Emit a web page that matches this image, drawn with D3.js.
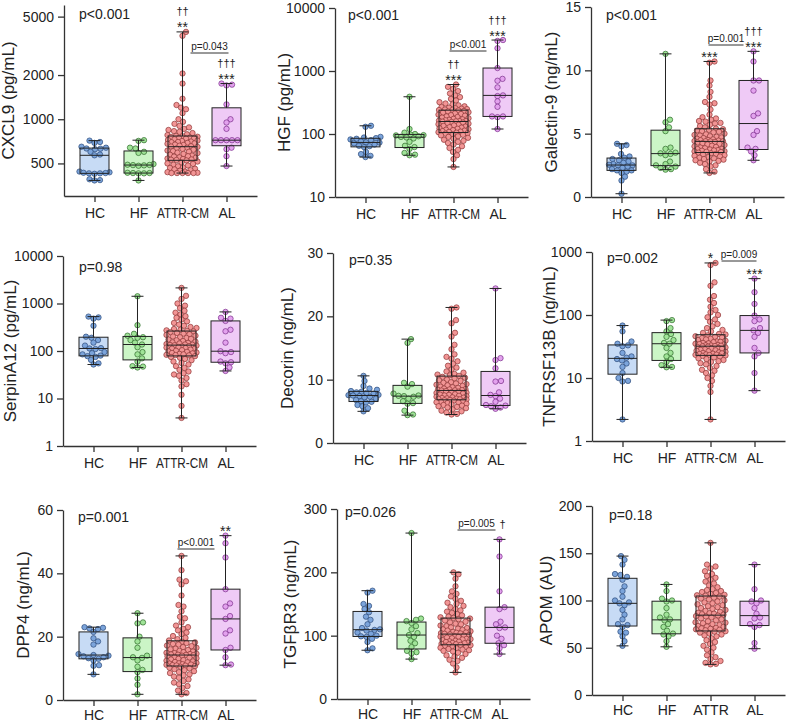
<!DOCTYPE html>
<html>
<head>
<meta charset="utf-8">
<script src="https://cdn.jsdelivr.net/npm/d3@7"></script>
<style>
  body { margin: 0; background: #fff; }
  svg { font-family: "Liberation Sans", Arial, sans-serif; }
</style>
</head>
<body>
<div id="plot"></div>
<script>
// group names on the x axis
var groups = ["HC", "HF", "ATTR-CM", "AL"];
var groupsShort = ["HC", "HF", "ATTR", "AL"];

// y axis titles and overall p values
var labels = ["CXCL9 (pg/mL)", "HGF (pg/mL)", "Galectin-9 (ng/mL)",
              "SerpinA12 (pg/mL)", "Decorin (ng/mL)", "TNFRSF13B (ng/mL)",
              "DPP4 (ng/mL)", "TGFβR3 (ng/mL)", "APOM (AU)"];
var pTexts = ["p<0.001", "p<0.001", "p<0.001", "p=0.98", "p=0.35", "p=0.002", "p=0.001", "p=0.026", "p=0.18"];
var bracketTexts = ["p=0.043", "p<0.001", "p=0.001", "p=0.009", "p<0.001", "p=0.005"];

// tick values
var cxcl9Ticks = [500, 1000, 2000, 5000];
var hgfTicks = [10, 100, 1000, 10000];
var galTicks = [0, 5, 10, 15];
var serpinTicks = [1, 10, 100, 1000, 10000];
var decorinTicks = [0, 10, 20, 30];
var tnfTicks = [1, 10, 100, 1000];
var dppTicks = [0, 20, 40, 60];
var tgfTicks = [0, 100, 200, 300];
var apomTicks = [0, 50, 100, 150, 200];

// values per group: HC, HF, ATTR-CM, AL
var cxcl9 = [
  [715, 700, 690, 650, 640, 632, 630, 625, 600, 575, 568, 440, 435, 432, 430, 428, 428, 425, 390, 385, 383],
  [720, 712, 640, 632, 600, 590, 495, 490, 488, 487, 485, 482, 432, 430, 430, 428, 428, 383],
  [3935, 3700, 2050, 1750, 1380, 1250, 1200, 1170, 1100, 1000, 960, 930, 900, 880, 860, 845, 830, 820, 805, 790, 780, 770,
   765, 760, 758, 750, 745, 740, 738, 730, 722, 715, 710, 705, 700, 697, 690, 684, 680, 672, 668, 660, 655, 652,
   648, 640, 632, 628, 620, 612, 606, 600, 592, 588, 580, 573, 566, 560, 556, 550, 545, 540, 536, 532, 530, 528,
   524, 515, 508, 500, 496, 490, 484, 478, 470, 466, 460, 455, 450, 446, 440, 436, 432, 430, 430, 430, 430, 430],
  [1750, 1720, 1700, 1262, 1000, 950, 860, 720, 720, 720, 720, 720, 640, 625, 560, 480]
];
var hgf = [
  [135, 130, 90, 88, 86, 84, 82, 80, 76, 74, 73, 71, 68, 65, 64, 62, 52, 48, 45, 43],
  [390, 120, 105, 100, 98, 96, 95, 92, 90, 88, 85, 75, 65, 62, 58, 50, 47, 46],
  [610, 560, 520, 480, 440, 410, 385, 360, 340, 320, 305, 295, 285, 275, 268, 262, 256, 252, 248, 245, 242, 240,
   236, 232, 228, 222, 218, 212, 208, 203, 199, 195, 190, 186, 182, 178, 174, 171, 168, 165, 163, 161, 160, 159,
   157, 155, 152, 149, 146, 143, 140, 137, 134, 131, 128, 126, 123, 121, 119, 117, 115, 113, 111, 109, 108, 107,
   105, 103, 101, 99, 97, 95, 92, 90, 87, 84, 81, 78, 75, 72, 68, 64, 60, 56, 52, 46, 40, 30],
  [3100, 3000, 2300, 1115, 750, 700, 550, 410, 400, 330, 270, 190, 190, 185, 120]
];
var galectin = [
  [4.2, 4.1, 4.0, 3.4, 3.2, 3.1, 3.0, 2.9, 2.8, 2.7, 2.6, 2.55, 2.5, 2.5, 2.4, 2.3, 2.2, 2.1, 2.1, 2.0, 1.9, 1.6, 1.3, 0.26],
  [11.3, 6.1, 5.9, 5.5, 5.2, 3.9, 3.8, 3.5, 3.45, 3.4, 3.3, 2.8, 2.6, 2.5, 2.4, 2.3, 2.2, 2.16],
  [10.7, 10.6, 9.2, 8.8, 8.3, 7.9, 7.5, 7.4, 7.3, 6.9, 6.5, 6.3, 6.2, 6.1, 6.0, 5.95, 5.85, 5.8, 5.7, 5.6, 5.5, 5.4,
   5.35, 5.3, 5.25, 5.2, 5.15, 5.1, 5.0, 4.95, 4.9, 4.85, 4.8, 4.75, 4.7, 4.65, 4.6, 4.55, 4.5, 4.48, 4.45, 4.42, 4.4, 4.4,
   4.38, 4.35, 4.3, 4.25, 4.2, 4.15, 4.1, 4.05, 4.0, 3.95, 3.9, 3.85, 3.8, 3.78, 3.75, 3.7, 3.68, 3.65, 3.62, 3.6, 3.57, 3.55,
   3.5, 3.45, 3.4, 3.35, 3.3, 3.25, 3.2, 3.15, 3.1, 3.05, 3.0, 2.95, 2.9, 2.85, 2.8, 2.7, 2.6, 2.5, 2.4, 2.2, 2.0, 1.9],
  [11.5, 10.7, 9.2, 9.2, 8.4, 6.6, 6.4, 5.2, 4.9, 3.9, 3.8, 3.6, 3.3, 2.9]
];
var serpin = [
  [530, 510, 480, 340, 200, 190, 170, 150, 130, 115, 113, 110, 95, 90, 85, 80, 78, 75, 65, 55, 52],
  [1420, 350, 230, 210, 195, 190, 170, 150, 137, 120, 95, 85, 70, 60, 48, 47, 45],
  [2130, 1450, 1250, 1000, 900, 800, 700, 640, 590, 540, 500, 460, 420, 390, 360, 340, 320, 305, 290, 280, 272, 265,
   258, 250, 240, 232, 225, 218, 210, 202, 195, 188, 180, 174, 168, 162, 157, 152, 148, 144, 140, 137, 135, 134,
   132, 130, 127, 124, 121, 118, 115, 112, 110, 107, 104, 101, 98, 96, 93, 91, 89, 87, 85, 83, 82, 81,
   78, 75, 72, 68, 64, 60, 56, 52, 48, 44, 40, 37, 34, 32, 30, 27, 24, 20, 18, 12, 7, 3.9],
  [665, 500, 480, 430, 280, 260, 150, 99, 95, 90, 60, 58, 55, 45, 38]
];
var decorin = [
  [10.6, 9.8, 9.0, 8.6, 8.4, 8.2, 8.1, 8.0, 7.9, 7.8, 7.6, 7.55, 7.5, 7.4, 7.3, 7.2, 7.0, 6.8, 6.6, 6.5, 6.4, 6.0, 5.8, 5.5, 5.0],
  [16.4, 15.8, 9.5, 9.3, 8.9, 7.8, 7.5, 7.45, 7.4, 7.3, 7.0, 6.6, 6.3, 6.2, 5.1, 4.5, 4.4],
  [21.4, 21.2, 19.4, 18.9, 17.4, 16.8, 15.5, 14.8, 14.0, 13.6, 13.3, 12.9, 12.5, 12.2, 11.9, 11.6, 11.3, 11.1, 10.9, 10.8, 10.7, 10.6,
   10.45, 10.3, 10.2, 10.0, 9.9, 9.8, 9.6, 9.5, 9.4, 9.3, 9.2, 9.1, 9.0, 8.9, 8.8, 8.7, 8.6, 8.5, 8.45, 8.4, 8.35, 8.32,
   8.28, 8.2, 8.1, 8.0, 7.95, 7.9, 7.8, 7.7, 7.65, 7.6, 7.5, 7.45, 7.4, 7.3, 7.2, 7.15, 7.1, 7.05, 7.0, 6.95, 6.9, 6.87,
   6.8, 6.75, 6.7, 6.6, 6.5, 6.45, 6.4, 6.3, 6.2, 6.1, 6.0, 5.9, 5.8, 5.7, 5.6, 5.5, 5.3, 5.1, 5.0, 4.8, 4.6, 4.5],
  [24.4, 13.4, 13.1, 11.8, 9.8, 9.7, 8.0, 7.6, 7.4, 7.0, 6.5, 6.0, 5.9, 5.8, 5.6, 5.4]
];
var tnf = [
  [68, 55, 38, 35, 33, 32, 25, 22, 21, 20, 19, 17, 15, 12, 10, 9, 8.8, 2.2],
  [83, 80, 62, 55, 50, 45, 40, 36, 35, 30, 25, 22, 20, 18, 16, 15, 14.8],
  [670, 620, 330, 290, 200, 175, 155, 135, 120, 110, 100, 92, 85, 78, 72, 66, 62, 58, 55, 52, 50, 49,
   47.5, 46, 45, 44, 43, 42, 41, 40, 39, 38, 37.5, 37, 36, 35.5, 35, 34.5, 34, 33.5, 33, 32.8, 32.5, 32.2,
   31.8, 31.5, 31, 30.5, 30, 29.5, 29, 28.5, 28, 27.5, 27, 26.5, 26, 25.5, 25, 24.6, 24.3, 24, 23.7, 23.5, 23.3, 23.1,
   22.8, 22.3, 21.8, 21.2, 20.5, 20, 19.3, 18.5, 18, 17.2, 16.5, 15.5, 14.5, 13.5, 13, 12, 11, 10, 9, 7.5, 6, 2.2],
  [378, 230, 150, 98, 85, 80, 62, 57, 52, 45, 30, 25, 22, 12, 6.3]
];
var dpp4 = [
  [23, 22.8, 22.6, 22.4, 21.5, 19.5, 18.5, 17.5, 14.5, 14.2, 14.0, 13.8, 13.5, 13.2, 13.0, 12.5, 11.0, 10.8, 8.1],
  [27.4, 24.5, 24.2, 20, 18.5, 16.5, 14, 13.5, 13.3, 12.5, 10.5, 9.5, 8.8, 6.8, 4.8, 1.8],
  [45.5, 41, 38, 37.5, 36.5, 33, 30, 29.5, 28, 26.3, 25.8, 24.5, 23.5, 23, 22.5, 22, 21.3, 20.8, 20.2, 19.6, 19.2, 18.8,
   18.4, 18.2, 18, 17.7, 17.5, 17.2, 17, 16.7, 16.5, 16.2, 16, 15.8, 15.5, 15.3, 15.1, 14.9, 14.8, 14.6, 14.5, 14.4, 14.3, 14.25,
   14.15, 14, 13.8, 13.6, 13.4, 13.2, 13, 12.8, 12.6, 12.4, 12.2, 12, 11.9, 11.7, 11.6, 11.5, 11.3, 11.2, 11.1, 11, 10.9, 10.85,
   10.7, 10.5, 10.2, 10, 9.7, 9.4, 9.1, 8.8, 8.5, 8.1, 7.8, 7.4, 7, 6.5, 6, 5.5, 5, 4.4, 3.8, 3, 2.2, 1.8],
  [51.9, 49.5, 45, 35, 30.5, 29.5, 26.5, 25.6, 22, 21, 16.5, 15.8, 13.5, 11.2, 11.0]
];
var tgf = [
  [171, 168, 150, 147, 142, 137, 130, 125, 118, 112, 110, 109, 108, 105, 103, 100, 99, 98, 95, 90, 80, 77],
  [262, 127, 125, 123, 120, 115, 110, 104, 101, 98, 92, 88, 82, 76, 74, 72, 63],
  [200, 197, 190, 178, 170, 166, 162, 158, 155, 152, 150, 147, 145, 142, 140, 138, 136, 134, 132, 130, 129, 128,
   127, 126, 124, 122, 121, 119, 118, 116, 115, 113, 112, 111, 110, 109, 108, 107, 106, 105, 104.5, 104, 103.5, 103,
   102, 101, 100, 99, 98.5, 98, 97, 96, 95, 94.5, 94, 93, 92, 91, 90.5, 90, 89, 88.5, 88, 87, 86.5, 86.2,
   85.4, 85, 84, 83, 82, 81, 80, 79, 78, 77, 76, 75, 73, 71, 69, 67, 65, 62, 60, 56, 50, 42],
  [252, 225, 170, 145, 142, 122, 118, 113, 112, 100, 95, 88, 85, 80, 71]
];
var apom = [
  [147, 143, 138, 128, 127, 125, 122, 115, 110, 104, 100, 98, 97, 95, 90, 85, 80, 75, 74, 72, 67, 66, 62, 57, 52],
  [117, 110, 102, 100, 99, 92, 85, 82, 80, 79, 75, 72, 68, 65, 64, 62, 57, 51],
  [161, 138, 136, 134, 131, 128, 126, 124, 122, 120, 118, 116, 114, 112, 111, 110, 109, 108, 107, 106, 105.5, 105,
   104, 103, 102, 101, 100, 99, 98, 97, 96, 95, 94, 93, 92, 91, 90, 89, 88, 87, 86.5, 86, 85.5, 85,
   84, 83.5, 83, 82, 81, 80, 79, 78, 77, 76.5, 76, 75, 74, 73, 72.5, 72, 71, 70.5, 70, 69.5, 69, 68.5,
   67.5, 67, 66, 65, 64, 63, 62, 60, 58, 56, 54, 52, 50, 48, 45, 42, 40, 38, 36, 34, 33, 32.4],
  [138, 112, 100, 99, 97, 92, 86, 82, 81, 75, 74, 72, 55, 49]
];

var colors = [
  {box: "#c7dbf5", pt: "#7ba4db", edge: "#2c4a7a"},
  {box: "#cbf5c6", pt: "#a0e498", edge: "#2e6a2a"},
  {box: "#fadcdc", pt: "#f29595", edge: "#8c3535"},
  {box: "#efcaf6", pt: "#e3a2ee", edge: "#7a2d8a"}
];

// panel layout (pixel positions of each plot frame)
var panels = [
  {data: cxcl9, log: true, domain: [300, 6000], ticks: cxcl9Ticks, cats: groups, axisX: 64, top: 5, bottom: 196, labelX: 8,
   pDx: 15, pDy: 14, stars: ["", "", "**", "***"], daggers: ["", "", "††", "†††"], bracket: [8, 46, 48, 0]},
  {data: hgf, log: true, domain: [10, 10000], ticks: hgfTicks, cats: groups, axisX: 335, top: 8, bottom: 197, labelX: 284,
   pDx: 13, pDy: 12, stars: ["", "", "***", "***"], daggers: ["", "", "††", "†††"], bracket: [-4, 33, 43, 1]},
  {data: galectin, log: false, domain: [0, 15], ticks: galTicks, cats: groups, axisX: 591, top: 7, bottom: 197, labelX: 551,
   pDx: 15, pDy: 13, stars: ["", "", "***", "***"], daggers: ["", "", "", "†††"], bracket: [-1, 34, 38, 2]},
  {data: serpin, log: true, domain: [1, 10000], ticks: serpinTicks, cats: groups, axisX: 63, top: 256, bottom: 446, labelX: 10,
   pDx: 16, pDy: 16, stars: ["", "", "", ""], daggers: ["", "", "", ""], bracket: null},
  {data: decorin, log: false, domain: [0, 30], ticks: decorinTicks, cats: groups, axisX: 333, top: 253, bottom: 443, labelX: 287,
   pDx: 16, pDy: 12, stars: ["", "", "", ""], daggers: ["", "", "", ""], bracket: null},
  {data: tnf, log: true, domain: [1, 1000], ticks: tnfTicks, cats: groups, axisX: 592, top: 252, bottom: 441, labelX: 549,
   pDx: 15, pDy: 11, stars: ["", "", "*", "***"], daggers: ["", "", "", ""], bracket: [11, 46, 9, 3]},
  {data: dpp4, log: false, domain: [0, 60], ticks: dppTicks, cats: groups, axisX: 63, top: 510, bottom: 700, labelX: 23,
   pDx: 15, pDy: 12, stars: ["", "", "", "**"], daggers: ["", "", "", ""], bracket: [-4, 33, 39, 4]},
  {data: tgf, log: false, domain: [0, 300], ticks: tgfTicks, cats: groups, axisX: 337, top: 509, bottom: 699, labelX: 290,
   pDx: 8, pDy: 8, stars: ["", "", "", ""], daggers: ["", "", "", "†"], bracket: [2, 40, 21, 5]},
  {data: apom, log: false, domain: [0, 200], ticks: apomTicks, cats: groupsShort, axisX: 592, top: 506, bottom: 695, labelX: 546,
   pDx: 17, pDy: 14, stars: ["", "", "", ""], daggers: ["", "", "", ""], bracket: null}
];

var R = 2.7;

// quartiles the way GraphPad Prism computes them
function quart(sorted, p) {
  var n = sorted.length, pos = p * (n + 1);
  if (pos <= 1) return sorted[0];
  if (pos >= n) return sorted[n - 1];
  var lo = Math.floor(pos), f = pos - lo;
  return sorted[lo - 1] + f * (sorted[lo] - sorted[lo - 1]);
}

// simple beeswarm: push each point sideways until it clears the others
function swarm(ys, maxW) {
  var order = ys.map(function(d, i) { return i; }).sort(function(a, b) { return ys[b] - ys[a]; });
  var placed = [], dx = [];
  var minD = 2 * R * 0.95;
  order.forEach(function(i) {
    var y = ys[i], best = 0, bestScore = -1;
    for (var k = 0; k <= maxW * 4; k++) {
      var off = (k % 2 === 1 ? 1 : -1) * Math.ceil(k / 2) * 0.5;
      var closest = Infinity;
      placed.forEach(function(p) {
        var d = Math.hypot(p[0] - off, p[1] - y);
        if (d < closest) closest = d;
      });
      if (closest >= minD) { best = off; bestScore = Infinity; break; }
      if (closest > bestScore) { bestScore = closest; best = off; }
    }
    dx[i] = best;
    placed.push([best, y]);
  });
  return dx;
}

var svg = d3.select("div#plot").append("svg")
    .attr("width", 787)
    .attr("height", 724);

panels.forEach(function(p, pi) {
  var g = svg.append("g");

  var y = (p.log ? d3.scaleLog() : d3.scaleLinear())
      .domain(p.domain)
      .range([p.bottom, p.top]);

  var x = d3.scalePoint()
      .domain(p.cats)
      .range([p.axisX, p.axisX + 193])
      .padding(0.693);

  var boxW = 29, capW = 12;

  p.data.forEach(function(vals, gi) {
    var cx = x(p.cats[gi]);
    var s = vals.slice().sort(d3.ascending);
    var q1 = quart(s, 0.25), med = quart(s, 0.5), q3 = quart(s, 0.75);
    var lo = s[0], hi = s[s.length - 1];
    var col = colors[gi];

    g.append("rect")
        .attr("x", cx - boxW / 2)
        .attr("y", y(q3))
        .attr("width", boxW)
        .attr("height", y(q1) - y(q3))
        .attr("fill", col.box);

    var ys = vals.map(function(v) { return y(v); });
    var dx = swarm(ys, 15);

    g.selectAll(".pt" + gi)
        .data(vals)
        .enter().append("circle")
        .attr("cx", function(d, i) { return cx + dx[i]; })
        .attr("cy", function(d, i) { return ys[i]; })
        .attr("r", R)
        .attr("fill", col.pt)
        .attr("stroke", col.edge)
        .attr("stroke-width", 0.7);

    var ln = g.append("g").attr("stroke", "#222").attr("stroke-width", 1).attr("fill", "none");
    ln.append("rect")
        .attr("x", cx - boxW / 2)
        .attr("y", y(q3))
        .attr("width", boxW)
        .attr("height", y(q1) - y(q3));
    ln.append("line").attr("x1", cx - boxW / 2).attr("x2", cx + boxW / 2).attr("y1", y(med)).attr("y2", y(med));
    ln.append("line").attr("x1", cx).attr("x2", cx).attr("y1", y(q3)).attr("y2", y(hi));
    ln.append("line").attr("x1", cx).attr("x2", cx).attr("y1", y(q1)).attr("y2", y(lo));
    ln.append("line").attr("x1", cx - capW / 2).attr("x2", cx + capW / 2).attr("y1", y(hi)).attr("y2", y(hi));
    ln.append("line").attr("x1", cx - capW / 2).attr("x2", cx + capW / 2).attr("y1", y(lo)).attr("y2", y(lo));

    // significance marks above the whisker
    if (p.stars[gi]) {
      g.append("text")
          .attr("x", cx).attr("y", y(hi) + 0.5)
          .attr("text-anchor", "middle")
          .style("font-size", "14px")
          .attr("fill", "#222")
          .text(p.stars[gi]);
    }
    if (p.daggers[gi]) {
      var single = !p.stars[gi];
      g.append("text")
          .attr("x", cx + (single ? 3 : 0)).attr("y", y(hi) - (single ? 11 : 16.5))
          .attr("text-anchor", "middle")
          .style("font-size", "11px")
          .attr("fill", "#222")
          .text(p.daggers[gi]);
    }
  });

  // axes
  var yAxis = d3.axisLeft(y)
      .tickValues(p.ticks)
      .tickFormat(d3.format("d"))
      .tickSize(6)
      .tickSizeOuter(0)
      .tickPadding(4);

  var ya = g.append("g")
      .attr("transform", "translate(" + p.axisX + ",0)")
      .call(yAxis);

  var xAxis = d3.axisBottom(x)
      .tickSize(6)
      .tickSizeOuter(0)
      .tickPadding(p.bottom > 650 ? 4 : 6);

  var xa = g.append("g")
      .attr("transform", "translate(0," + p.bottom + ")")
      .call(xAxis);

  [ya, xa].forEach(function(a) {
    a.select(".domain").attr("stroke", "#333").attr("stroke-width", 1.3);
    a.selectAll(".tick line").attr("stroke", "#333").attr("stroke-width", 1.3);
    a.selectAll(".tick text").attr("fill", "#222").style("font-size", "14px").style("font-family", "Liberation Sans, Arial, sans-serif");
  });
  xa.selectAll(".tick text")
      .filter(function(d) { return d === "ATTR-CM"; })
      .attr("textLength", 52)
      .attr("lengthAdjust", "spacingAndGlyphs");

  // y axis title
  g.append("text")
      .attr("transform", "translate(" + (p.labelX + 6) + "," + ((p.top + p.bottom) / 2) + ") rotate(-90)")
      .attr("text-anchor", "middle")
      .style("font-size", "17px")
      .attr("fill", "#222")
      .text(labels[pi]);

  // overall p value
  g.append("text")
      .attr("x", p.axisX + p.pDx)
      .attr("y", p.top + p.pDy)
      .style("font-size", "14px")
      .attr("fill", "#222")
      .text(pTexts[pi]);

  // ATTR vs AL bracket
  if (p.bracket) {
    var ax = x(p.cats[2]);
    var by = p.top + p.bracket[2];
    g.append("line")
        .attr("x1", ax + p.bracket[0]).attr("x2", ax + p.bracket[1])
        .attr("y1", by).attr("y2", by)
        .attr("stroke", "#333").attr("stroke-width", 1);
    g.append("text")
        .attr("x", ax + (p.bracket[0] + p.bracket[1]) / 2)
        .attr("y", by - 3)
        .attr("text-anchor", "middle")
        .style("font-size", "10px")
        .attr("fill", "#222")
        .text(bracketTexts[p.bracket[3]]);
  }
});
</script>
</body>
</html>
